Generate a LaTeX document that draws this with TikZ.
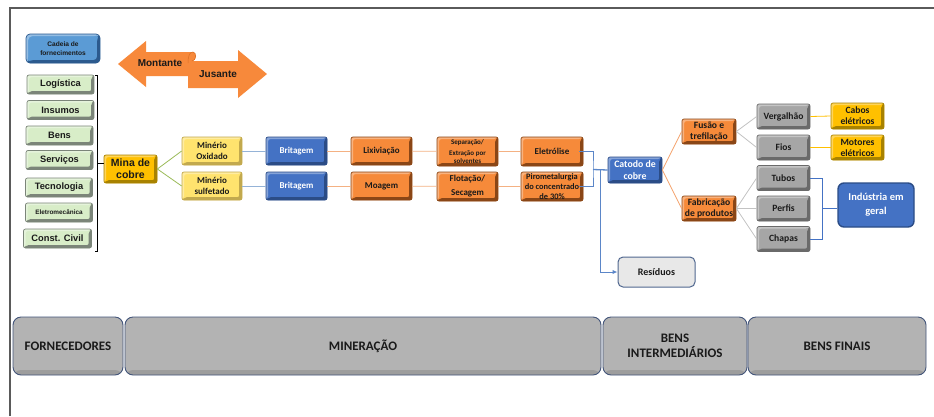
\documentclass[tikz,border=0pt]{standalone}
\usepackage{fontspec}
\setmainfont{Carlito}
\newfontfamily\arialf{Liberation Sans}
\usetikzlibrary{arrows.meta}

\definecolor{blueF}{HTML}{4472C4}
\definecolor{blueD}{HTML}{2B4C86}
\definecolor{orangeF}{HTML}{F68A3A}
\definecolor{orangeD}{HTML}{8A4616}
\definecolor{lyelF}{HTML}{FFE36E}
\definecolor{lyelD}{HTML}{C2A94E}
\definecolor{goldF}{HTML}{FFC000}
\definecolor{goldD}{HTML}{A88200}
\definecolor{grayF}{HTML}{A6A6A6}
\definecolor{grayD}{HTML}{6A6A6A}
\definecolor{greenF}{HTML}{D8EDC8}
\definecolor{greenD}{HTML}{7B8579}
\definecolor{cadF}{HTML}{5B9BD5}
\definecolor{cadD}{HTML}{2C5A8E}
\definecolor{resF}{HTML}{E8E8E8}
\definecolor{resD}{HTML}{50678F}
\definecolor{barF}{HTML}{B3B3B3}
\definecolor{barD}{HTML}{43557A}
\definecolor{arrowOr}{HTML}{F7893B}
\definecolor{arrowDk}{HTML}{D86E24}
\definecolor{lnGreen}{HTML}{9BBB59}
\definecolor{lnLBlue}{HTML}{95B3D7}
\definecolor{lnLOrange}{HTML}{F4B183}
\definecolor{lnBlue}{HTML}{5B86C8}
\definecolor{lnOrange}{HTML}{F4A068}
\definecolor{lnGray}{HTML}{C3C3C3}
\definecolor{frameC}{HTML}{5A5A5A}
\definecolor{txt}{HTML}{1A1A1A}

\tikzset{
  box/.style={rectangle, rounded corners=2pt, inner sep=0pt, align=center,
    line width=0.7pt, text=txt, font=\bfseries\fontsize{9}{10.5}\selectfont},
  bev/.style 2 args={fill=#1, draw=#2,
    path picture={
      \fill[#2] (path picture bounding box.south west) -- (path picture bounding box.south east)
        -- (path picture bounding box.north east)
        -- ([xshift=-2.8pt,yshift=-2.8pt]path picture bounding box.north east)
        -- ([xshift=-2.8pt,yshift=2.8pt]path picture bounding box.south east)
        -- ([xshift=2.8pt,yshift=2.8pt]path picture bounding box.south west) -- cycle;
      \fill[white,opacity=.35] (path picture bounding box.south west) -- (path picture bounding box.north west)
        -- (path picture bounding box.north east)
        -- ([xshift=-2.8pt,yshift=-2.2pt]path picture bounding box.north east)
        -- ([xshift=2.2pt,yshift=-2.2pt]path picture bounding box.north west)
        -- ([xshift=2.2pt,yshift=2.8pt]path picture bounding box.south west) -- cycle;
    }},
  bluebox/.style={box, bev={blueF}{blueD}, text=white},
  orbox/.style={box, bev={orangeF}{orangeD}},
  lyelbox/.style={box, bev={lyelF}{lyelD}},
  goldbox/.style={box, bev={goldF}{goldD}},
  graybox/.style={box, bev={grayF}{grayD}},
  greenbox/.style={box, bev={greenF}{greenD}, minimum width=67pt, minimum height=19pt,
    font=\arialf\bfseries\fontsize{9.3}{10}\selectfont},
  stagebox/.style={rectangle, rounded corners=8pt, fill=barF, draw=barD, line width=0.9pt,
    minimum height=58pt, inner sep=0pt, align=center, text=txt,
    font=\bfseries\fontsize{13}{15}\selectfont,
    path picture={\fill[black,opacity=.12] ([yshift=5pt]path picture bounding box.south west) rectangle (path picture bounding box.south east);}},
  ln/.style={line width=0.8pt},
}

\begin{document}
\begin{tikzpicture}[x=1pt,y=-1pt]
\useasboundingbox (0,0) rectangle (934,416);
\fill[white] (0,0) rectangle (934,416);

% outer frame (top and left edges)
\draw[frameC, line width=1.3pt] (10,416) -- (10,8) -- (934,8);

% legend box and direction arrows
\node[box, bev={cadF}{cadD}, minimum width=74pt, minimum height=29pt, rounded corners=4pt,
  font=\arialf\bfseries\fontsize{6.6}{9}\selectfont] (cadeia) at (63,48.5) {Cadeia de\\fornecimentos};

\fill[arrowOr] (118,64) -- (146,41) -- (146,52) -- (193,52)
  .. controls (197,52) and (197,60) .. (193,60) -- (193,76) -- (146,76) -- (146,87) -- cycle;
\fill[arrowOr] (188,61) .. controls (188,55) and (190,52) .. (193,52)
  .. controls (196,52) and (196,61) .. (193,61) -- (238,61) -- (238,50) -- (267,74)
  -- (238,98) -- (238,88) -- (188,88) -- cycle;
\draw[arrowDk, line width=0.5pt] (188,63) .. controls (188,55) and (190,52) .. (193,52)
  .. controls (196.5,52) and (196.5,61) .. (192,61);
\node[font=\arialf\bfseries\fontsize{10}{12}\selectfont, text=txt] (montante) at (160,63) {Montante};
\node[font=\arialf\bfseries\fontsize{10}{12}\selectfont, text=txt] (jusante) at (218,74) {Jusante};

% suppliers
\node[greenbox] (logistica) at (60.5,84.5) {Logística};
\node[greenbox] (insumos) at (60.5,110) {Insumos};
\node[greenbox] (bens) at (59.5,135.5) {Bens};
\node[greenbox] (servicos) at (59.5,160) {Serviços};
\node[greenbox] (tecnologia) at (59,187.5) {Tecnologia};
\node[greenbox, font=\arialf\bfseries\fontsize{6.4}{8}\selectfont] (eletromec) at (59,212.5) {Eletromecânica};
\node[greenbox, minimum width=68pt] (constcivil) at (57.5,238.5) {Const. Civil};

\coordinate (brtop) at (97,75);
\coordinate (brbot) at (97,251);
\coordinate (brmid) at (97,163);
\draw[black, line width=0.8pt] ([xshift=-2.5pt]brtop) -- (brtop) -- (brbot) -- ([xshift=-2.5pt]brbot);

% mine and ores
\node[goldbox, minimum width=53pt, minimum height=28pt,
  font=\arialf\bfseries\fontsize{10.5}{12}\selectfont] (mina) at (130.5,169) {Mina de\\cobre};
\draw[black, line width=0.8pt] (brmid) -- (brmid -| mina.west);

\node[lyelbox, minimum width=60pt, minimum height=28pt] (minox) at (212,151) {Minério\\Oxidado};
\node[lyelbox, minimum width=60pt, minimum height=28pt] (minsulf) at (212,186) {Minério\\sulfetado};
\draw[ln, lnGreen] (mina.east) -- (minox.west);
\draw[ln, lnGreen] (mina.east) -- (minsulf.west);

% processing chain
\node[bluebox, minimum width=61pt, minimum height=28pt] (brit1) at (296.5,151) {Britagem};
\node[bluebox, minimum width=61pt, minimum height=28pt] (brit2) at (296.5,186) {Britagem};
\node[orbox, minimum width=61pt, minimum height=28pt] (lixiv) at (381.5,151) {Lixiviação};
\node[orbox, minimum width=61pt, minimum height=28pt] (moagem) at (381.5,186) {Moagem};
\node[orbox, minimum width=61pt, minimum height=29pt,
  font=\bfseries\fontsize{7}{10.5}\selectfont] (separacao) at (467.5,151.5) {Separação/\\Extração por\\[-2.5pt]solventes};
\node[orbox, minimum width=61pt, minimum height=29pt,
  font=\bfseries\fontsize{9}{14}\selectfont] (flotacao) at (467.5,186.5) {Flotação/\\Secagem};
\node[orbox, minimum width=62pt, minimum height=29pt] (eletrolise) at (552,151.5) {Eletrólise};
\node[orbox, minimum width=62pt, minimum height=29pt,
  font=\bfseries\fontsize{8.4}{10}\selectfont] (piro) at (552,186.5) {Pirometalurgia\\do concentrado\\de 30\%};

\draw[ln, lnLBlue] (minox) -- (brit1);
\draw[ln, lnLBlue] (minsulf) -- (brit2);
\draw[ln, lnLOrange] (brit1) -- (lixiv);
\draw[ln, lnLOrange] (brit2) -- (moagem);
\draw[ln, lnLOrange] (lixiv) -- (separacao);
\draw[ln, lnLOrange] (moagem) -- (flotacao);
\draw[ln, lnLOrange] (separacao) -- (eletrolise);
\draw[ln, lnLOrange] (flotacao) -- (piro);

% cathode and residues
\node[bluebox, minimum width=54pt, minimum height=26pt,
  font=\bfseries\fontsize{9.8}{11.5}\selectfont] (catodo) at (635,170) {Catodo de\\cobre};
\node[box, fill=resF, draw=resD, line width=1pt, rounded corners=5pt,
  minimum width=77pt, minimum height=30pt, font=\bfseries\fontsize{10}{12}\selectfont] (residuos) at (656.5,272) {Resíduos};

\coordinate (jn) at (593,169.5);
\coordinate (drop) at (600,169.5);
\draw[ln, lnBlue, line width=1pt] ([xshift=-4pt]eletrolise.east) -| (jn) |- ([xshift=-4pt]piro.east);
\draw[ln, lnBlue, line width=1.3pt] (jn) -- (catodo.west);
\draw[ln, lnBlue, line width=1pt, -{Latex[length=5pt,width=4.5pt]}] (drop) |- (residuos.west);

% intermediate goods
\node[orbox, minimum width=54pt, minimum height=25pt,
  font=\bfseries\fontsize{9.6}{11}\selectfont] (fusao) at (709,131.5) {Fusão e\\trefilação};
\node[orbox, minimum width=54pt, minimum height=25pt,
  font=\bfseries\fontsize{9.6}{11}\selectfont] (fabric) at (709,208.5) {Fabricação\\de produtos};
\draw[ln, lnOrange] (catodo.east) -- (fusao.west);
\draw[ln, lnOrange] (catodo.east) -- (fabric.west);

\tikzset{gb/.style={graybox, minimum width=53pt, minimum height=25pt, font=\bfseries\fontsize{9.6}{11}\selectfont}}
\node[gb] (vergalhao) at (783.5,116.5) {Vergalhão};
\node[gb] (fios) at (783.5,147.5) {Fios};
\node[gb] (tubos) at (783.5,178) {Tubos};
\node[gb] (perfis) at (783.5,208.5) {Perfis};
\node[gb] (chapas) at (783.5,239) {Chapas};
\draw[ln, lnGray] (fusao.east) -- (vergalhao.west);
\draw[ln, lnGray] (fusao.east) -- (fios.west);
\draw[ln, lnGray] (fabric.east) -- (tubos.west);
\draw[ln, lnGray] (fabric.east) -- (perfis.west);
\draw[ln, lnGray] (fabric.east) -- (chapas.west);

% final goods
\node[goldbox, minimum width=53pt, minimum height=26pt,
  font=\bfseries\fontsize{9.6}{11}\selectfont] (cabos) at (857.5,116) {Cabos\\elétricos};
\node[goldbox, minimum width=53pt, minimum height=25pt,
  font=\bfseries\fontsize{9.6}{11}\selectfont] (motores) at (857.5,147.5) {Motores\\elétricos};
\draw[ln, goldF] (vergalhao.east) -- (cabos.west);
\draw[ln, goldF] (fios.east) -- (motores.west);

\node[box, fill=blueF, draw=blueD, line width=1.4pt, rounded corners=6pt, text=white,
  minimum width=76pt, minimum height=44pt, font=\bfseries\fontsize{10.5}{14}\selectfont] (industria) at (876,205) {Indústria em\\geral};
\coordinate (ij) at (822,208.5);
\draw[ln, blueF] (tubos.east) -| (ij) |- (chapas.east);
\draw[ln, blueF, line width=1.4pt] (ij) -- (ij -| industria.west);

% value-chain stages
\node[stagebox, minimum width=110pt] (forn) at (68,346) {FORNECEDORES};
\node[stagebox, minimum width=476pt] (miner) at (363,346) {MINERAÇÃO};
\node[stagebox, minimum width=144pt] (bensint) at (675,346) {BENS\\INTERMEDIÁRIOS};
\node[stagebox, minimum width=178pt] (bensfin) at (837,346) {BENS FINAIS};
\end{tikzpicture}
\end{document}
